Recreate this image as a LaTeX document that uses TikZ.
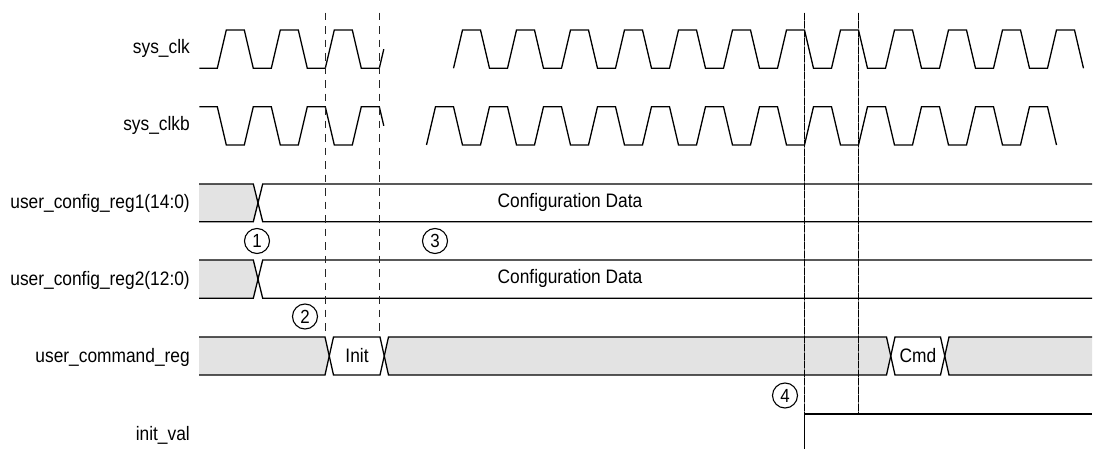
\documentclass[tikz,border=0pt]{standalone}
\usepackage{fontspec}
\setmainfont{Liberation Sans}[FakeStretch=0.89]
\begin{document}
\begin{tikzpicture}[x=1pt,y=-1pt,
  sig/.style={line width=1.3pt,line join=miter},
  busfill/.style={fill=black!11},
  lbl/.style={anchor=east,inner sep=0pt,font=\fontsize{19.5}{22}\selectfont},
  txt/.style={inner sep=0pt,font=\fontsize{19.5}{22}\selectfont},
  num/.style={circle,draw,line width=1.1pt,minimum size=25pt,inner sep=0pt,font=\fontsize{19}{21}\selectfont},
  marker/.style={line width=1.2pt,black!85,dash pattern=on 7.5pt off 6pt},
  refline/.style={line width=1.3pt,black,dash pattern=on 7pt off 1.5pt}]
\useasboundingbox (0,0) rectangle (1096,449);
% labels
\node[lbl] (lclk)  at (190,48.5)  {sys\_clk};
\node[lbl] (lclkb) at (190,125.5) {sys\_clkb};
\node[lbl] (lr1)   at (190,203)   {user\_config\_reg1(14:0)};
\node[lbl] (lr2)   at (190,280)   {user\_config\_reg2(12:0)};
\node[lbl] (lcmd)  at (190,357)   {user\_command\_reg};
\node[lbl] (linit) at (190,435)   {init\_val};
% sys_clk left part
\draw[sig] (199.3,68.3) -- (217.3,68.3)
  \foreach \k in {1,2,3}{ -- ++(9,-38.3) -- ++(18,0) -- ++(9,38.3) -- ++(18,0) }
  -- ++(4.5,-19.15);
% sys_clkb left part
\draw[sig] (199.3,106.7) -- (217.3,106.7)
  \foreach \k in {1,2,3}{ -- ++(9,38.3) -- ++(18,0) -- ++(9,-38.3) -- ++(18,0) }
  -- ++(4.5,19.15);
% sys_clk right part
\draw[sig] (453.5,68.3)
  \foreach \k in {1,...,11}{ -- ++(9,-38.3) -- ++(18,0) -- ++(9,38.3) -- ++(18,0) }
  -- ++(9,-38.3) -- ++(18,0) -- ++(9,38.3);
% sys_clkb right part
\draw[sig] (426.5,145)
  \foreach \k in {1,...,11}{ -- ++(9,-38.3) -- ++(18,0) -- ++(9,38.3) -- ++(18,0) }
  -- ++(9,-38.3) -- ++(18,0) -- ++(9,38.3);
% user_config_reg1
\fill[busfill] (199,184) -- (253.3,184) -- (258,202.85) -- (253.3,221.7) -- (199,221.7) -- cycle;
\draw[sig] (199,184) -- (253.3,184) -- (262.7,221.7) -- (1092,221.7);
\draw[sig] (199,221.7) -- (253.3,221.7) -- (262.7,184) -- (1092,184);
\node[txt] (d1) at (570,202) {Configuration Data};
% user_config_reg2
\fill[busfill] (199,260) -- (253.3,260) -- (258,279.15) -- (253.3,298.3) -- (199,298.3) -- cycle;
\draw[sig] (199,260) -- (253.3,260) -- (262.7,298.3) -- (1092,298.3);
\draw[sig] (199,298.3) -- (253.3,298.3) -- (262.7,260) -- (1092,260);
\node[txt] (d2) at (570,278.5) {Configuration Data};
% user_command_reg
\fill[busfill] (199,337) -- (325,337) -- (329.25,356) -- (325,375) -- (199,375) -- cycle;
\fill[busfill] (384.25,356) -- (388.5,337) -- (886.5,337) -- (890.75,356) -- (886.5,375) -- (388.5,375) -- cycle;
\fill[busfill] (944.75,356) -- (949,337) -- (1092,337) -- (1092,375) -- (949,375) -- cycle;
\draw[sig] (199,337) -- (325,337) -- (333.5,375) -- (380,375) -- (388.5,337) -- (886.5,337) -- (895,375) -- (940.5,375) -- (949,337) -- (1092,337);
\draw[sig] (199,375) -- (325,375) -- (333.5,337) -- (380,337) -- (388.5,375) -- (886.5,375) -- (895,337) -- (940.5,337) -- (949,375) -- (1092,375);
\node[txt] (tinit) at (357,356) {Init};
\node[txt] (tcmd) at (918,356) {Cmd};
% init_val
\draw[sig] (804.5,449) -- (804.5,414) -- (1092,414);
% dashed marker lines
\coordinate (m1t) at (325.3,12.7); \coordinate (m1b) at (325.3,337);
\coordinate (m2t) at (379.8,12.7); \coordinate (m2b) at (379.8,337);
\draw[marker] (m1t) -- (m1b);
\draw[marker] (m2t) -- (m2b);
\coordinate (r1t) at (804.5,12.7); \coordinate (r1b) at (804.5,414);
\coordinate (r2t) at (858.5,12.7); \coordinate (r2b) at (858.5,414);
\draw[line width=1.3pt,black!55] (r1t) -- (r1b);
\draw[line width=1.3pt,black!55] (r2t) -- (r2b);
\draw[refline] (r1t) -- (r1b);
\draw[refline] (r2t) -- (r2b);
% numbered circles
\node[num] (c1) at (257,241) {1};
\node[num] (c2) at (305,316.5) {2};
\node[num] (c3) at (435,241) {3};
\node[num] (c4) at (785,395.5) {4};
\end{tikzpicture}
\end{document}
